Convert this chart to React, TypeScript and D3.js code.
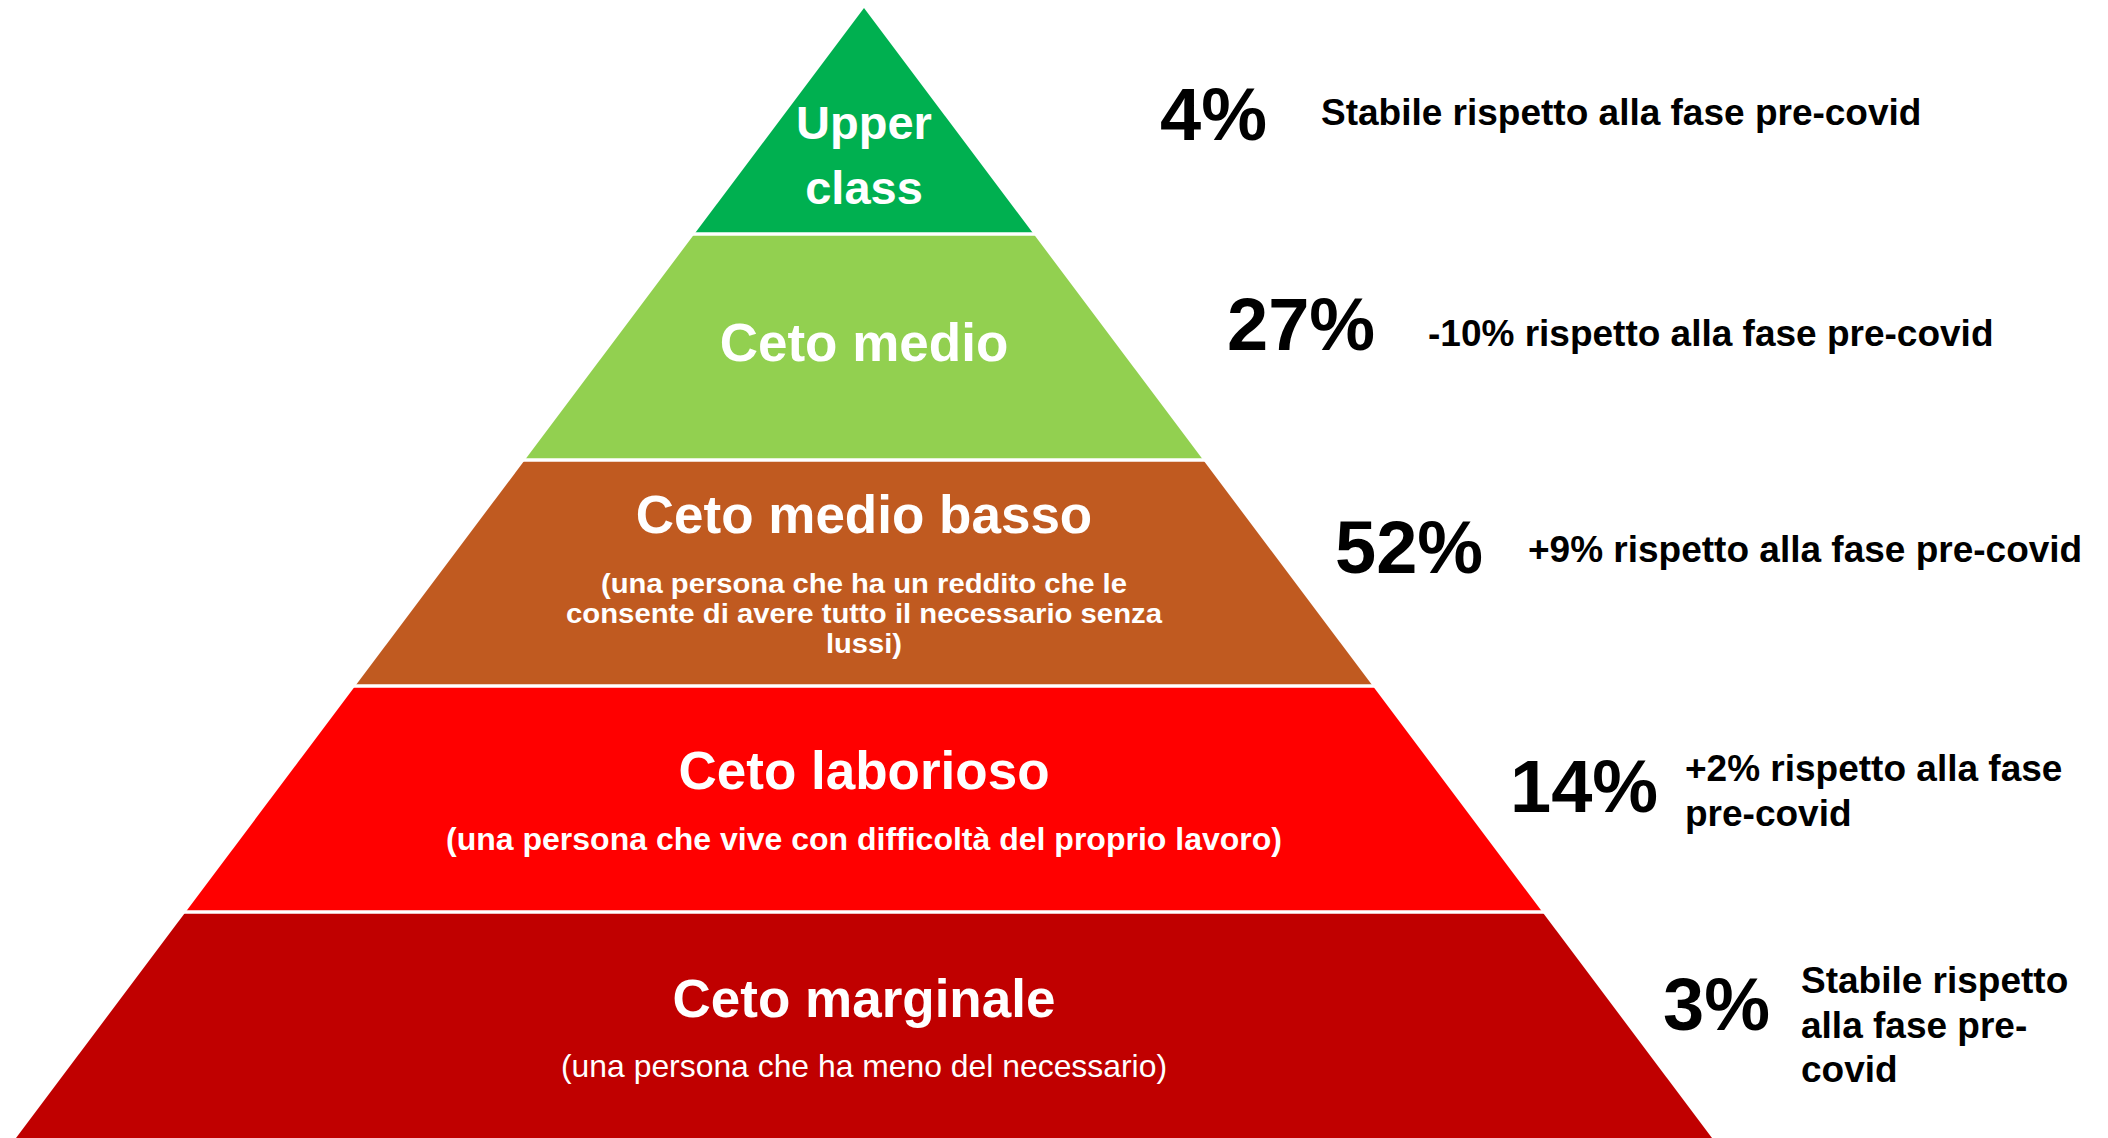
import React from "react";
import * as d3 from "d3";

// ---- data ----
const levels = ["Upper class", "Ceto medio", "Ceto medio basso", "Ceto laborioso", "Ceto marginale"];
const titleLines: string[][] = [["Upper", "class"], ["Ceto medio"], ["Ceto medio basso"], ["Ceto laborioso"], ["Ceto marginale"]];
const descriptions: string[][] = [
  [],
  [],
  ["(una persona che ha un reddito che le", "consente di avere tutto il necessario senza", "lussi)"],
  ["(una persona che vive con difficoltà del proprio lavoro)"],
  ["(una persona che ha meno del necessario)"],
];
const shares = ["4%", "27%", "52%", "14%", "3%"];
const changes: string[][] = [
  ["Stabile rispetto alla fase pre-covid"],
  ["-10% rispetto alla fase pre-covid"],
  ["+9% rispetto alla fase pre-covid"],
  ["+2% rispetto alla fase", "pre-covid"],
  ["Stabile rispetto", "alla fase pre-", "covid"],
];
const colors = ["#00B050", "#92D050", "#C05A20", "#FF0000", "#C00000"];

// ---- layout ----
const W = 2108;
const H = 1138;
const apexX = 864;
const apexY = 8;
const baseY = 1138;
const halfBase = 848;
const FONT = "'Liberation Sans', Arial, Helvetica, sans-serif";

const titleBase = [[131, 196], [127], [73], [103], [105]];
const titleSize = [47, 53, 53, 53, 53];
const descLayout = [
  { y0: 0, dy: 0, size: 28, weight: 700, widths: [] as number[] },
  { y0: 0, dy: 0, size: 28, weight: 700, widths: [] as number[] },
  { y0: 133, dy: 30, size: 28.5, weight: 700, widths: [526, 596, 76] },
  { y0: 164, dy: 0, size: 32, weight: 700, widths: [836] },
  { y0: 165, dy: 0, size: 32, weight: 400, widths: [606] },
];
const pctPos = [[1160, 140], [1227, 350], [1335, 573], [1510, 812], [1663, 1030]];
const notePos = [[1321, 125], [1428, 346], [1528, 562], [1685, 781], [1801, 993]];
const noteDy = 44.5;

export default function App() {
  const y = d3.scaleLinear().domain([0, levels.length]).range([apexY, baseY]);
  const half = d3.scaleLinear().domain([apexY, baseY]).range([0, halfBase]);

  const shapes = levels.map((_, i) => {
    const t = y(i);
    const b = y(i + 1);
    const pts: [number, number][] = [
      [apexX - half(t), t],
      [apexX + half(t), t],
      [apexX + half(b), b],
      [apexX - half(b), b],
    ];
    return d3.line()(pts.concat([pts[0]])) as string;
  });

  return (
    <svg
      width={W}
      height={H}
      style={{ position: "absolute", left: 0, top: 0, background: "#fff" }}
      fontFamily={FONT}
    >
      <rect x={0} y={0} width={W} height={H} fill="#fff" />
      {shapes.map((d, i) => (
        <path key={"p" + i} d={d} fill={colors[i]} />
      ))}
      {levels.slice(1).map((_, i) => {
        const yy = y(i + 1);
        return (
          <line
            key={"sep" + i}
            x1={apexX - half(yy) - 4}
            x2={apexX + half(yy) + 4}
            y1={yy}
            y2={yy}
            stroke="#fff"
            strokeWidth={3.5}
          />
        );
      })}
      {titleLines.map((lines, i) =>
        lines.map((ln, j) => (
          <text
            key={"t" + i + "-" + j}
            x={apexX}
            y={y(i) + titleBase[i][j]}
            textAnchor="middle"
            fill="#fff"
            fontWeight={700}
            fontSize={titleSize[i]}
          >
            {ln}
          </text>
        ))
      )}
      {descriptions.map((lines, i) =>
        lines.map((ln, j) => (
          <text
            key={"d" + i + "-" + j}
            x={apexX}
            y={y(i) + descLayout[i].y0 + j * descLayout[i].dy}
            textAnchor="middle"
            fill="#fff"
            fontWeight={descLayout[i].weight}
            fontSize={descLayout[i].size}
            textLength={descLayout[i].widths[j]}
            lengthAdjust="spacingAndGlyphs"
          >
            {ln}
          </text>
        ))
      )}
      {shares.map((s, i) => (
        <text
          key={"s" + i}
          x={pctPos[i][0]}
          y={pctPos[i][1]}
          fill="#000"
          fontWeight={700}
          fontSize={74}
        >
          {s}
        </text>
      ))}
      {changes.map((lines, i) =>
        lines.map((ln, j) => (
          <text
            key={"c" + i + "-" + j}
            x={notePos[i][0]}
            y={notePos[i][1] + j * noteDy}
            fill="#000"
            fontWeight={700}
            fontSize={37}
          >
            {ln}
          </text>
        ))
      )}
    </svg>
  );
}
